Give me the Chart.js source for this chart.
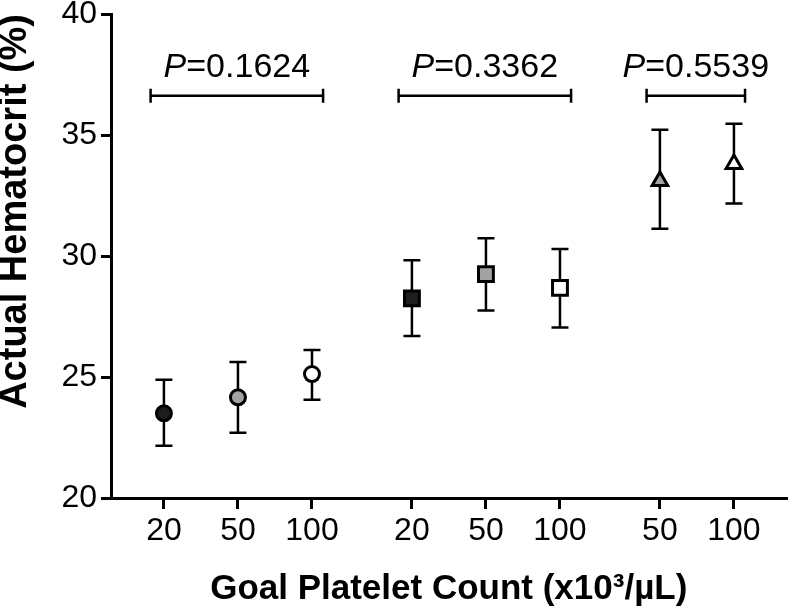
<!DOCTYPE html>
<html>
<head>
<meta charset="utf-8">
<script src="https://cdn.jsdelivr.net/npm/chart.js@4"></script>
<style>
  html, body { margin: 0; padding: 0; background: #fff; }
  canvas { display: block; }
</style>
</head>
<body>
<canvas id="hctChart" width="800" height="607"></canvas>
<script>
// goal platelet count groups (x10^3/uL)
const countLabels = ['20', '50', '100', '20', '50', '100', '50', '100'];
const groupOf = [0, 0, 0, 1, 1, 1, 2, 2];

// actual hematocrit (%), mean with error bar ends
const meanHct = [23.5, 24.16, 25.12, 28.25, 29.25, 28.68, 33.1, 33.8];
const upperHct = [24.89, 25.62, 26.12, 29.82, 30.73, 30.29, 35.22, 35.47];
const lowerHct = [22.16, 22.70, 24.06, 26.69, 27.75, 27.05, 31.13, 32.17];

const markerShape = ['circle', 'circle', 'circle', 'rect', 'rect', 'rect', 'triangle', 'triangle'];
const markerFill = ['#1e1e1e', '#a2a2a2', '#ffffff', '#1e1e1e', '#a2a2a2', '#ffffff', '#a2a2a2', '#ffffff'];
const markerSize = [7.5, 7.5, 7.5, 10.5, 10.5, 10.5, 9, 9];

// comparisons within each group
const pValues = ['0.1624', '0.3362', '0.5539'];
const pSpans = [[0, 2], [3, 5], [6, 7]];
const bracketLevel = 36.62;

const yTicks = [20, 25, 30, 35, 40];

const xPos = countLabels.map((_, i) => i + 1 + groupOf[i] * 0.35);
const FONT = "'Liberation Sans', Arial, sans-serif";

const errorBars = {
    id: 'errorBars',
    beforeDatasetsDraw(chart) {
        const { ctx, scales: { x, y } } = chart;
        ctx.save();
        ctx.strokeStyle = '#000';
        ctx.lineWidth = 2.5;
        xPos.forEach((v, i) => {
            const px = x.getPixelForValue(v);
            const top = y.getPixelForValue(upperHct[i]);
            const bot = y.getPixelForValue(lowerHct[i]);
            ctx.beginPath();
            ctx.moveTo(px, top);
            ctx.lineTo(px, bot);
            ctx.moveTo(px - 8.5, top);
            ctx.lineTo(px + 8.5, top);
            ctx.moveTo(px - 8.5, bot);
            ctx.lineTo(px + 8.5, bot);
            ctx.stroke();
        });
        ctx.restore();
    }
};

const pBrackets = {
    id: 'pBrackets',
    afterDatasetsDraw(chart) {
        const { ctx, scales: { x, y } } = chart;
        const py = y.getPixelForValue(bracketLevel);
        ctx.save();
        ctx.strokeStyle = '#000';
        ctx.fillStyle = '#000';
        ctx.lineWidth = 2.5;
        pSpans.forEach(([s, e], k) => {
            const x1 = x.getPixelForValue(xPos[s] - 0.18);
            const x2 = x.getPixelForValue(xPos[e] + 0.15);
            ctx.beginPath();
            ctx.moveTo(x1, py);
            ctx.lineTo(x2, py);
            ctx.moveTo(x1, py - 7);
            ctx.lineTo(x1, py + 7);
            ctx.moveTo(x2, py - 7);
            ctx.lineTo(x2, py + 7);
            ctx.stroke();

            const rest = '=' + pValues[k];
            ctx.font = 'italic 34px ' + FONT;
            const wP = ctx.measureText('P').width;
            ctx.font = '34px ' + FONT;
            const wR = ctx.measureText(rest).width;
            const startX = (x1 + x2) / 2 - (wP + wR) / 2;
            ctx.textBaseline = 'alphabetic';
            ctx.textAlign = 'left';
            ctx.font = 'italic 34px ' + FONT;
            ctx.fillText('P', startX, py - 19);
            ctx.font = '34px ' + FONT;
            ctx.fillText(rest, startX + wP, py - 19);
        });
        ctx.restore();
    }
};

new Chart(document.getElementById('hctChart'), {
    type: 'scatter',
    data: {
        datasets: [{
            data: xPos.map((v, i) => ({ x: v, y: meanHct[i] })),
            pointStyle: markerShape,
            backgroundColor: markerFill,
            borderColor: '#000',
            pointRadius: markerSize,
            pointHoverRadius: markerSize,
            pointBorderWidth: 3,
            showLine: false
        }]
    },
    options: {
        responsive: false,
        animation: false,
        layout: { padding: { left: 0, right: -12, top: 14, bottom: 0 } },
        plugins: { legend: { display: false }, tooltip: { enabled: false } },
        scales: {
            x: {
                type: 'linear',
                min: 0.285,
                max: 9.41,
                afterBuildTicks: scale => { scale.ticks = xPos.map(v => ({ value: v })); },
                afterFit: scale => { scale.height = 109; scale.paddingRight = 0; scale.paddingLeft = 0; },
                ticks: {
                    autoSkip: false,
                    maxRotation: 0,
                    color: '#000',
                    padding: 3,
                    font: { family: FONT, size: 32 },
                    callback: (value, index) => countLabels[index]
                },
                grid: { drawOnChartArea: false, drawTicks: true, tickLength: 11, color: '#000', lineWidth: 3 },
                border: { color: '#000', width: 3 },
                title: {
                    display: true,
                    text: 'Goal Platelet Count (x10³/µL)',
                    color: '#000',
                    padding: 0,
                    font: { family: FONT, size: 35, weight: 'bold', lineHeight: 1 }
                }
            },
            y: {
                min: 20,
                max: 40,
                afterBuildTicks: scale => { scale.ticks = yTicks.map(v => ({ value: v })); },
                afterFit: scale => { scale.width = 111; scale.paddingTop = 0; scale.paddingBottom = 0; },
                ticks: {
                    color: '#000',
                    padding: 4,
                    font: { family: FONT, size: 32 }
                },
                grid: { drawOnChartArea: false, drawTicks: true, tickLength: 10, color: '#000', lineWidth: 3 },
                border: { color: '#000', width: 3 },
                title: {
                    display: true,
                    text: 'Actual Hematocrit (%)',
                    align: 'end',
                    color: '#000',
                    padding: 0,
                    font: { family: FONT, size: 38, weight: 'bold', lineHeight: 0.8 }
                }
            }
        }
    },
    plugins: [errorBars, pBrackets]
});
</script>
</body>
</html>
